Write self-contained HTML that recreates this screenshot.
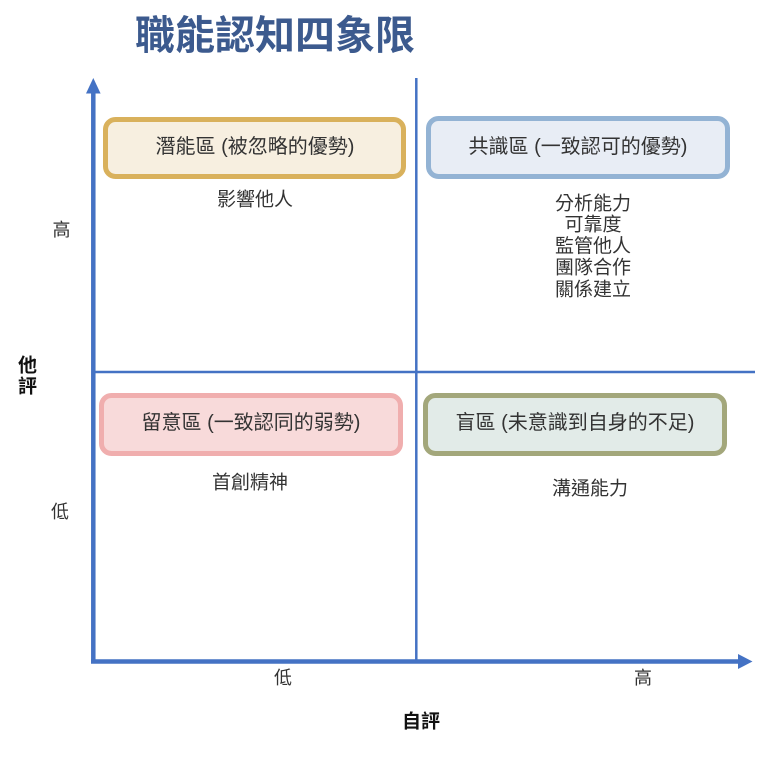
<!DOCTYPE html>
<html>
<head>
<meta charset="utf-8">
<style>
  html, body { margin:0; padding:0; background:#ffffff; }
  body { width:768px; height:762px; overflow:hidden; position:relative; }
  svg { position:absolute; left:0; top:0; }
  text { font-family: "Liberation Sans", "Noto Sans CJK TC", "Noto Sans CJK SC", sans-serif; }
</style>
</head>
<body>
<svg width="768" height="762" viewBox="0 0 768 762" xmlns="http://www.w3.org/2000/svg">
  <!-- Title -->
  <text x="275" y="36" font-size="40" font-weight="bold" fill="#3c5a8e" text-anchor="middle" dominant-baseline="central">職能認知四象限</text>

  <!-- Dividers -->
  <line x1="416.3" y1="78" x2="416.3" y2="661" stroke="#4472c4" stroke-width="2.5"/>
  <line x1="93" y1="372" x2="755" y2="372" stroke="#4472c4" stroke-width="2.5"/>

  <!-- Y axis -->
  <line x1="93.3" y1="92" x2="93.3" y2="663.5" stroke="#4472c4" stroke-width="4.5"/>
  <polygon points="86,93.5 100.6,93.5 93.3,78" fill="#4472c4"/>
  <!-- X axis -->
  <line x1="91" y1="661.5" x2="739" y2="661.5" stroke="#4472c4" stroke-width="4.5"/>
  <polygon points="738,654 738,669 752.5,661.5" fill="#4472c4"/>

  <!-- Boxes -->
  <rect x="105.5" y="119.5" width="298" height="57" rx="10" ry="10" fill="#f7efe0" stroke="#d9b15c" stroke-width="5"/>
  <rect x="428.5" y="118.5" width="299" height="58" rx="10" ry="10" fill="#e8edf5" stroke="#93b3d4" stroke-width="5"/>
  <rect x="101.5" y="395.5" width="299" height="58" rx="10" ry="10" fill="#f8dada" stroke="#f0aeae" stroke-width="5"/>
  <rect x="425.5" y="395.5" width="299" height="58" rx="10" ry="10" fill="#e2ebe8" stroke="#a3a77b" stroke-width="5"/>

  <!-- Box labels -->
  <g font-size="20" fill="#333333" text-anchor="middle" dominant-baseline="central">
    <text x="255" y="147">潛能區 (被忽略的優勢)</text>
    <text x="578" y="147">共識區 (一致認可的優勢)</text>
    <text x="251" y="423">留意區 (一致認同的弱勢)</text>
    <text x="575" y="423">盲區 (未意識到自身的不足)</text>
  </g>

  <!-- Quadrant items -->
  <g font-size="19" fill="#333333" text-anchor="middle" dominant-baseline="central">
    <text x="255" y="200">影響他人</text>
    <text x="593" y="204">分析能力</text>
    <text x="593" y="225">可靠度</text>
    <text x="593" y="246.5">監管他人</text>
    <text x="593" y="268">團隊合作</text>
    <text x="593" y="290">關係建立</text>
    <text x="250" y="483">首創精神</text>
    <text x="590" y="489">溝通能力</text>
  </g>

  <!-- Axis tick labels -->
  <g font-size="18" fill="#333333" text-anchor="middle" dominant-baseline="central">
    <text x="61.5" y="230">高</text>
    <text x="60" y="512">低</text>
    <text x="283" y="678">低</text>
    <text x="643" y="678">高</text>
  </g>

  <!-- Axis titles -->
  <g font-size="19" font-weight="bold" fill="#111111" text-anchor="middle" dominant-baseline="central">
    <text x="27.5" y="366">他</text>
    <text x="27.5" y="387">評</text>
    <text x="421" y="722">自評</text>
  </g>
</svg>
</body>
</html>
